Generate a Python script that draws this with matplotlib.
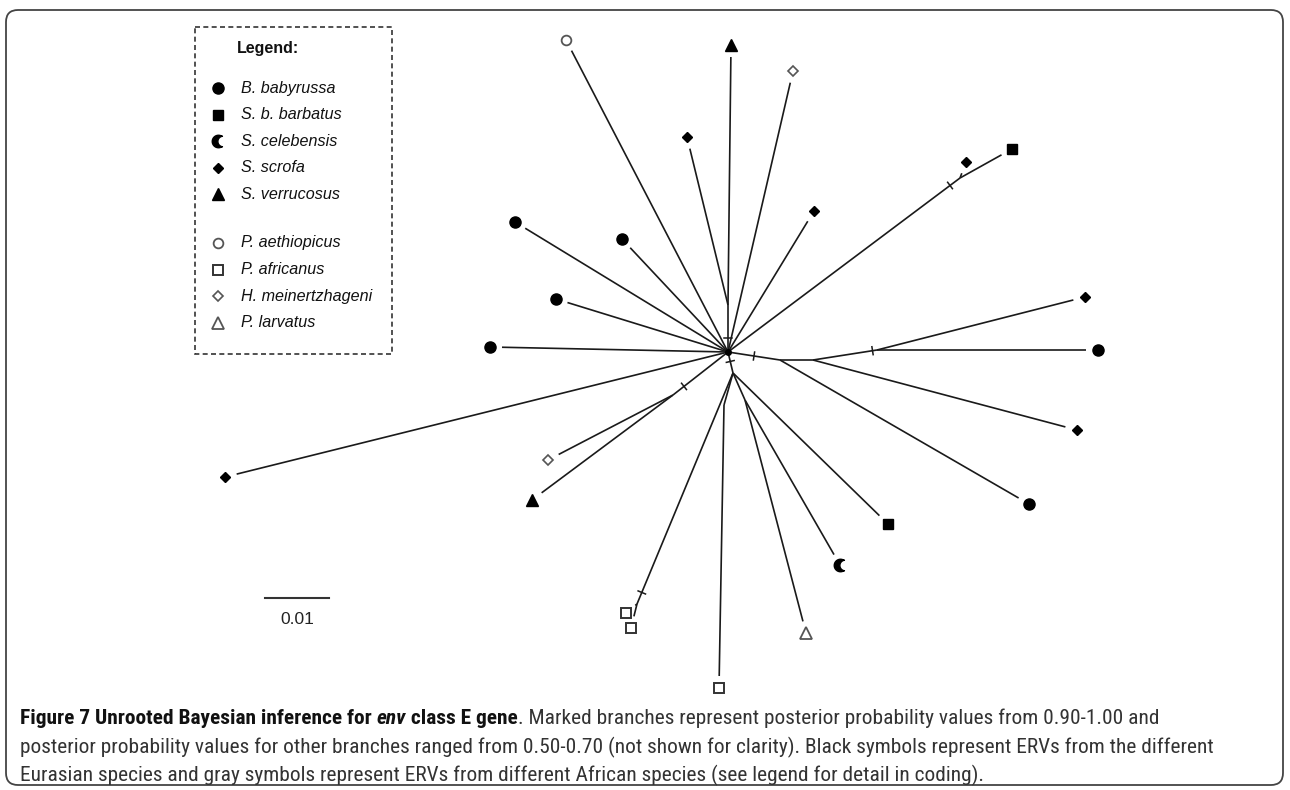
import numpy as np
import matplotlib.pyplot as plt
from matplotlib.path import Path
from matplotlib.patches import FancyBboxPatch, Rectangle
from matplotlib import font_manager

# tree layout (canvas pixels, y down)
node_names = ['C', 'R1', 'R2', 'R3', 'D1', 'D2', 'D3', 'S1', 'L1', 'T1', 'U1']
node_x = [728, 780, 813, 877, 733, 745, 724, 637, 673, 728, 960]
node_y = [352, 360, 360, 350, 373, 400, 405, 604, 395, 305, 178]

tip_names = ['aeth', 'verr1', 'mein1', 'scr1', 'scr2', 'barb1', 'scr3', 'bab1', 'bab2',
             'bab3', 'bab4', 'scr4', 'bab5', 'scr5', 'bab6', 'barb2', 'cel', 'larv',
             'afr1', 'afr2', 'afr3', 'verr2', 'mein2', 'scr6']
tip_x = [566, 731, 793, 687, 966, 1012, 814, 515, 622, 556, 490, 1085, 1098, 1077,
         1029, 888, 840, 806, 719, 626, 631, 532, 548, 225]
tip_y = [40, 45, 71, 137, 162, 149, 211, 222, 239, 299, 347, 297, 350, 430,
         504, 524, 565, 633, 688, 613, 628, 500, 460, 477]
tip_species = ['P. aethiopicus', 'S. verrucosus', 'H. meinertzhageni', 'S. scrofa',
               'S. scrofa', 'S. b. barbatus', 'S. scrofa', 'B. babyrussa', 'B. babyrussa',
               'B. babyrussa', 'B. babyrussa', 'S. scrofa', 'B. babyrussa', 'S. scrofa',
               'B. babyrussa', 'S. b. barbatus', 'S. celebensis', 'P. larvatus',
               'P. africanus', 'P. africanus', 'P. africanus', 'S. verrucosus',
               'H. meinertzhageni', 'S. scrofa']

edges = [('C', 'aeth'), ('C', 'mein1'), ('C', 'T1'), ('T1', 'verr1'), ('T1', 'scr1'),
         ('C', 'U1'), ('U1', 'barb1'), ('U1', 'scr2'), ('C', 'scr3'), ('C', 'bab1'),
         ('C', 'bab2'), ('C', 'bab3'), ('C', 'bab4'), ('C', 'R1'), ('R1', 'bab6'),
         ('R1', 'R2'), ('R2', 'scr5'), ('R2', 'R3'), ('R3', 'scr4'), ('R3', 'bab5'),
         ('C', 'D1'), ('D1', 'barb2'), ('D1', 'D2'), ('D2', 'cel'), ('D2', 'larv'),
         ('D1', 'D3'), ('D3', 'afr1'), ('D1', 'S1'), ('S1', 'afr2'), ('S1', 'afr3'),
         ('C', 'scr6'), ('C', 'L1'), ('L1', 'mein2'), ('L1', 'verr2')]

# branches with posterior probability 0.90-1.00
tick_edges = [('C', 'R1'), ('R2', 'R3'), ('C', 'D1'), ('C', 'T1'), ('C', 'L1'),
              ('D1', 'S1'), ('C', 'U1')]
tick_frac = [0.5, 0.93, 0.45, 0.3, 0.8, 0.95, 0.957]

legend_species = ['B. babyrussa', 'S. b. barbatus', 'S. celebensis', 'S. scrofa',
                  'S. verrucosus', 'P. aethiopicus', 'P. africanus',
                  'H. meinertzhageni', 'P. larvatus']

scale_value = 0.01

caption_lines = [
    [('Figure 7 Unrooted Bayesian inference for ', 'bold', 'normal'),
     ('env', 'bold', 'italic'),
     (' class E gene', 'bold', 'normal'),
     ('. Marked branches represent posterior probability values from 0.90-1.00 and',
      'normal', 'normal')],
    [('posterior probability values for other branches ranged from 0.50-0.70 (not shown '
      'for clarity). Black symbols represent ERVs from the different', 'normal', 'normal')],
    [('Eurasian species and gray symbols represent ERVs from different African species '
      '(see legend for detail in coding).', 'normal', 'normal')],
]
caption_right = [1262, 1215, 873]


def crescent_path():
    t1 = np.linspace(np.radians(55), np.radians(305), 40)
    outer = np.column_stack([np.cos(t1), np.sin(t1)])
    t2 = np.linspace(np.radians(262), np.radians(98), 40)
    inner = np.column_stack([0.75 + 0.85 * np.cos(t2), 0.85 * np.sin(t2)])
    v = np.vstack([outer, inner, outer[:1]])
    codes = [Path.MOVETO] + [Path.LINETO] * (len(v) - 2) + [Path.CLOSEPOLY]
    return Path(v, codes)


CRES = crescent_path()
GRAY = '#555555'
style = {
    'B. babyrussa': dict(marker='o', ms=8, mfc='black', mec='black'),
    'S. b. barbatus': dict(marker='s', ms=7, mfc='black', mec='black'),
    'S. celebensis': dict(marker=CRES, ms=9, mfc='black', mec='black'),
    'S. scrofa': dict(marker='D', ms=5, mfc='black', mec='black'),
    'S. verrucosus': dict(marker='^', ms=8, mfc='black', mec='black'),
    'P. aethiopicus': dict(marker='o', ms=7, mfc='white', mec=GRAY, mew=1.3),
    'P. africanus': dict(marker='s', ms=7, mfc='white', mec='#333333', mew=1.4),
    'H. meinertzhageni': dict(marker='D', ms=5, mfc='white', mec=GRAY, mew=1.2),
    'P. larvatus': dict(marker='^', ms=8, mfc='white', mec=GRAY, mew=1.3),
}

fig = plt.figure(figsize=(12.9, 7.9), dpi=100)
ax = fig.add_axes([0, 0, 1, 1])
ax.set_xlim(0, 1290)
ax.set_ylim(790, 0)
ax.axis('off')

pos = {n: (x, y) for n, x, y in zip(node_names, node_x, node_y)}
pos.update({n: (x, y) for n, x, y in zip(tip_names, tip_x, tip_y)})
tips = set(tip_names)
gap = 12

for a, b in edges:
    x0, y0 = pos[a]
    x1, y1 = pos[b]
    if b in tips:
        d = np.hypot(x1 - x0, y1 - y0)
        x1 -= gap * (x1 - x0) / d
        y1 -= gap * (y1 - y0) / d
    ax.plot([x0, x1], [y0, y1], color='#1a1a1a', lw=1.2, solid_capstyle='butt')

for (a, b), f in zip(tick_edges, tick_frac):
    x0, y0 = pos[a]
    x1, y1 = pos[b]
    d = np.hypot(x1 - x0, y1 - y0)
    px, py = x0 + f * (x1 - x0), y0 + f * (y1 - y0)
    nx, ny = -(y1 - y0) / d, (x1 - x0) / d
    ax.plot([px - 4 * nx, px + 4 * nx], [py - 4 * ny, py + 4 * ny], color='#1a1a1a', lw=1.1)

ax.plot(*pos['C'], marker='o', ms=4, color='black')

for x, y, sp in zip(tip_x, tip_y, tip_species):
    ax.plot(x, y, ls='none', **style[sp])

# legend box
ax.add_patch(Rectangle((195, 27), 197, 327, fill=False, ec='#333333', lw=1.2,
                       ls=(0, (3, 2))))
ax.text(268, 48, 'Legend:', ha='center', va='center', fontsize=11.5, fontweight='bold',
        family=['Liberation Sans', 'DejaVu Sans'], color='#111111')
for i, sp in enumerate(legend_species):
    y = 88 + 26.6 * i + (22 if i >= 5 else 0)
    ax.plot(218, y, ls='none', **style[sp])
    ax.text(241, y, sp, ha='left', va='center', fontsize=11.6, fontstyle='italic',
            family=['Liberation Sans', 'DejaVu Sans'], color='#111111')

# scale bar
px_per_unit = 6400
ax.plot([265, 265 + scale_value * px_per_unit], [598, 598], color='#333333', lw=1.5)
ax.text(265 + scale_value * px_per_unit / 2, 620, f'{scale_value:.2f}', ha='center',
        va='center', fontsize=12.5, family=['Liberation Sans', 'DejaVu Sans'],
        color='#222222')

# outer frame
ax.add_patch(FancyBboxPatch((6, 10), 1277, 775,
                            boxstyle='round,pad=0,rounding_size=12',
                            fill=False, ec='#444444', lw=1.3))

# caption
names = {f.name for f in font_manager.fontManager.ttflist}
cap_font = 'DejaVu Sans'
for cand in ['Liberation Sans Narrow', 'Roboto Condensed', 'Open Sans Condensed',
             'Liberation Sans']:
    if cand in names:
        cap_font = cand
        break

renderer = fig.canvas.get_renderer()


def draw_line(pieces, x, y, size):
    arts = []
    for txt, w, st in pieces:
        col = '#111111' if w == 'bold' else '#333333'
        t = ax.text(x, y, txt, ha='left', va='baseline', fontsize=size,
                    fontweight=w, fontstyle=st, family=[cap_font, 'DejaVu Sans'],
                    color=col)
        arts.append(t)
        x += t.get_window_extent(renderer).width
    return arts, x


base_y = [724, 753, 781]
sizes = []
for line, right in zip(caption_lines, caption_right):
    arts, end = draw_line(line, 20, 0, 12)
    for a in arts:
        a.remove()
    sizes.append(12 * (right - 20) / (end - 20))
size = sorted(sizes)[1]
for line, y in zip(caption_lines, base_y):
    draw_line(line, 20, y, size)

fig.savefig('out.png', dpi=100)
